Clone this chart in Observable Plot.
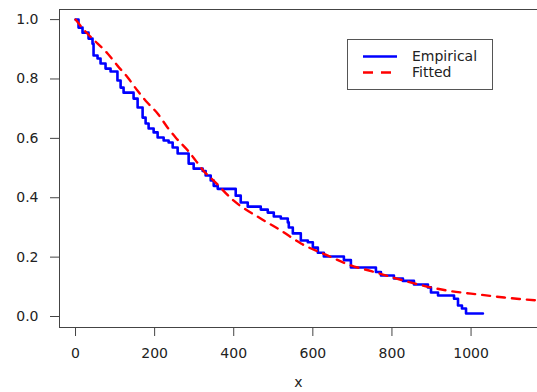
<!DOCTYPE html>
<html><head><meta charset="utf-8">
<script src="https://cdn.jsdelivr.net/npm/d3@7"></script>
<script src="https://cdn.jsdelivr.net/npm/@observablehq/plot@0.6"></script>
<style>
body{margin:0;background:#fff;}
#wrap{position:relative;width:537px;height:392px;overflow:hidden;background:#fff;}
.legend{position:absolute;left:347px;top:39px;width:144px;height:49px;border:1px solid #555;background:#fff;font-family:"DejaVu Sans",sans-serif;font-size:14px;color:#222;}
.legend svg{position:absolute;left:0;top:0;}
.legend span{position:absolute;left:64px;line-height:16px;}
</style></head><body><div id="wrap"></div>
<script>
// Empirical survival (step function)
const empTime = [0,7.6,17.7,32.9,43,45.6,55.7,63.3,75.9,88.6,106,114,121.5,146.8,157,169.6,177.2,184.8,197.5,207.6,222.8,235.4,245.6,258.2,286,298.7,321.5,329,341.8,349.4,359.5,405,417.7,435.4,468.4,486,501.3,519,536.7,539.2,549.4,569.6,587.3,600,612.7,627.8,678.5,696.2,759.5,772.2,805,827.8,855.7,891,898.7,916.5,957,967,977,987.3,1030];
const empSurv = [1.0,0.973,0.956,0.936,0.919,0.879,0.869,0.852,0.835,0.825,0.795,0.771,0.754,0.734,0.704,0.67,0.65,0.633,0.62,0.603,0.593,0.586,0.569,0.549,0.515,0.498,0.49,0.475,0.458,0.44,0.43,0.407,0.384,0.37,0.36,0.35,0.337,0.33,0.317,0.30,0.28,0.256,0.25,0.232,0.215,0.202,0.19,0.165,0.15,0.138,0.128,0.12,0.108,0.098,0.081,0.071,0.06,0.037,0.027,0.01,0.01];
// Fitted survival curve
const fitTime = [0,30,56,81,106,132,157,182,208,233,253,284,304,324,349,400,468,519,570,638,696,750,803,899,937,1000,1033,1084,1122,1170];
const fitSurv = [1.0,0.953,0.919,0.886,0.845,0.805,0.76,0.72,0.683,0.636,0.603,0.559,0.525,0.49,0.458,0.39,0.33,0.29,0.246,0.205,0.172,0.152,0.131,0.098,0.088,0.077,0.072,0.064,0.059,0.054];
const xTicks = [0,200,400,600,800,1000];
const yTicks = [0,0.2,0.4,0.6,0.8,1.0];
const xLabel = "x";
const legendLabels = ["Empirical","Fitted"];
const xDomain = [-40.5, 1168];
const yDomain = [-0.037, 1.034];

const emp = empTime.map((t,i)=>({t, s: empSurv[i]}));
const fit = fitTime.map((t,i)=>({t, s: fitSurv[i]}));

const plot = Plot.plot({
  width: 537, height: 392,
  marginLeft: 59, marginRight: 0, marginTop: 9, marginBottom: 65,
  x: {domain: xDomain},
  y: {domain: yDomain},
  style: {fontFamily: "DejaVu Sans, sans-serif", fontSize: "14px", color: "#222", background: "white", overflow: "hidden"},
  marks: [
    Plot.ruleX([xDomain[0]], {stroke: "#444", strokeWidth: 1}),
    Plot.ruleY(yDomain, {stroke: "#444", strokeWidth: 1}),
    Plot.axisX({ticks: xTicks, tickSize: 9, tickPadding: 12, tickFormat: d => String(d), label: null, stroke: "#444", fontSize: 14}),
    Plot.axisY({ticks: yTicks, tickSize: 9, tickPadding: 12, tickFormat: d => d.toFixed(1), label: null, stroke: "#444", fontSize: 14}),
    Plot.line(emp, {x: "t", y: "s", curve: "step-after", stroke: "#0000ff", strokeWidth: 2.6}),
    Plot.line(fit, {x: "t", y: "s", curve: "monotone-x", stroke: "#ff0000", strokeWidth: 2.4, strokeDasharray: "8,7"}),
    Plot.text([xLabel], {text: d => d, frameAnchor: "bottom", dy: 59, fontSize: 14, fill: "#222"})
  ]
});
const wrap = document.getElementById("wrap");
wrap.appendChild(plot);

const leg = document.createElement("div");
leg.className = "legend";
leg.innerHTML = `<svg width="144" height="49">
<line x1="15" x2="49" y1="16.5" y2="16.5" stroke="#0000ff" stroke-width="2.4"/>
<line x1="15" x2="43" y1="32.5" y2="32.5" stroke="#ff0000" stroke-width="2.4" stroke-dasharray="10,8"/>
</svg><span style="top:8px">${legendLabels[0]}</span><span style="top:24px">${legendLabels[1]}</span>`;
wrap.appendChild(leg);
</script>
</body></html>
